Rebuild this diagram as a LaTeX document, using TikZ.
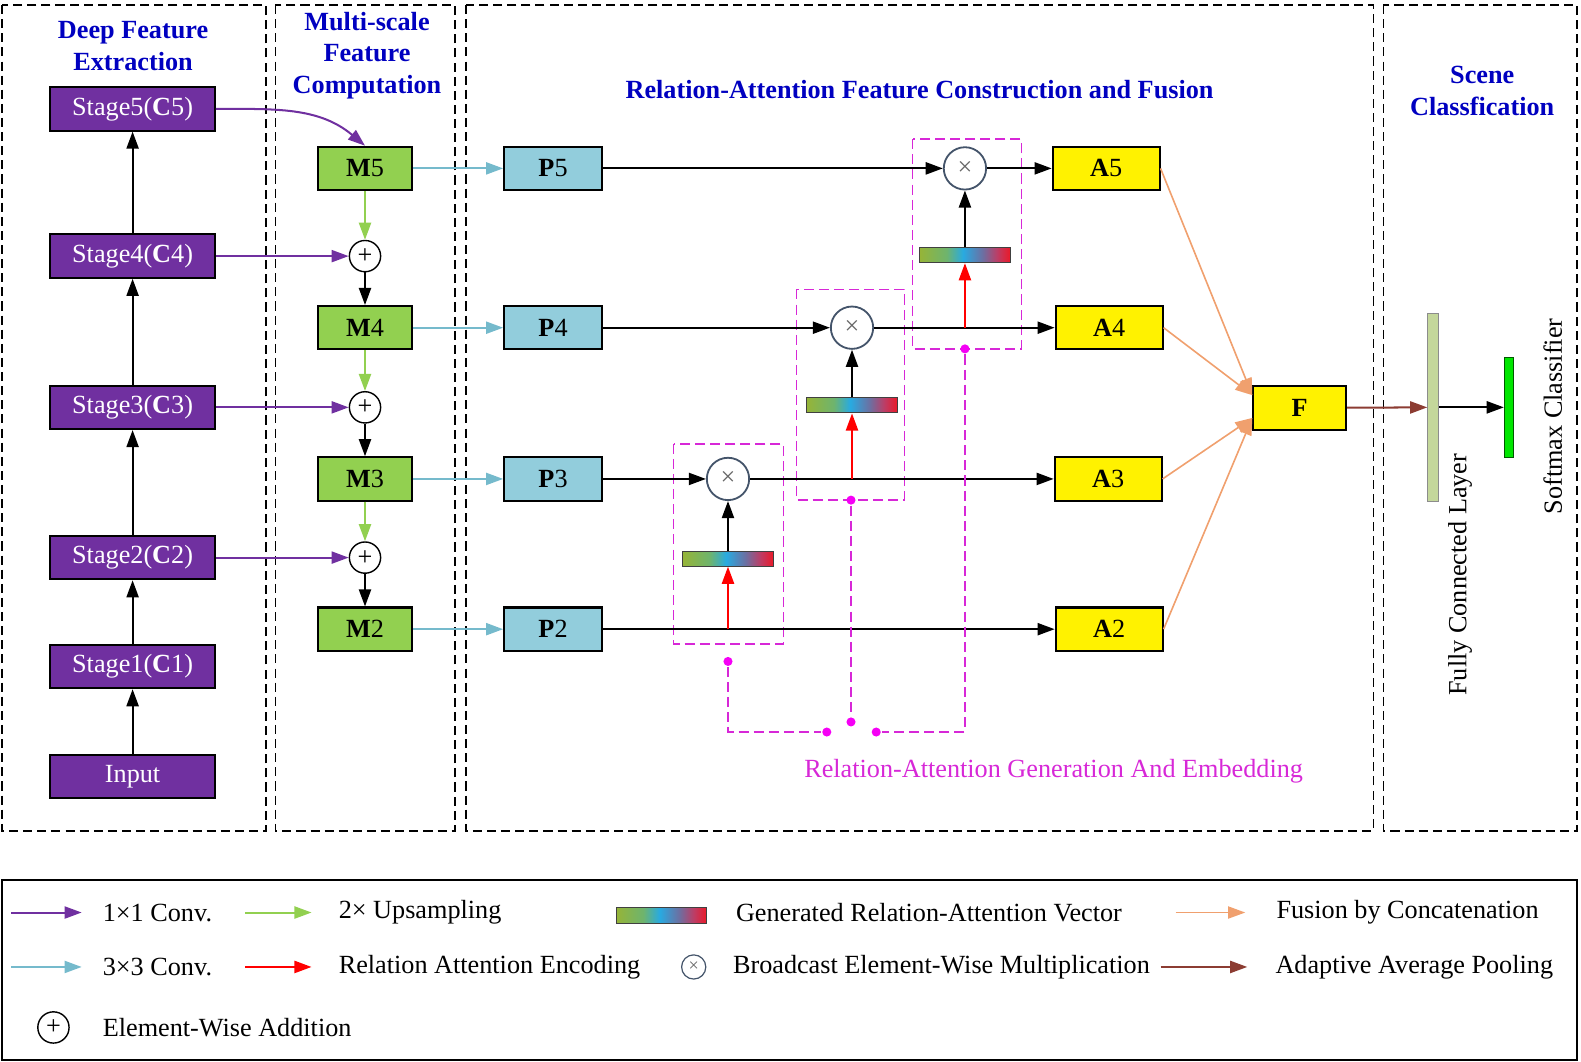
\documentclass[tikz,border=0pt]{standalone}
\usepackage{fontspec}
\setmainfont{Liberation Serif}
\usetikzlibrary{arrows.meta}
\definecolor{stpurple}{RGB}{112,48,160}
\definecolor{mgreen}{RGB}{146,208,80}
\definecolor{pblue}{RGB}{146,205,220}
\definecolor{convcyan}{RGB}{117,186,204}
\definecolor{titleblue}{RGB}{0,0,192}
\definecolor{ramag}{RGB}{215,40,215}
\definecolor{dotmag}{RGB}{245,0,245}
\definecolor{fusorange}{RGB}{240,160,110}
\definecolor{poolbrown}{RGB}{140,60,50}
\definecolor{fcgreen}{RGB}{196,215,155}
\definecolor{smgreen}{RGB}{0,230,0}
\definecolor{mulgray}{RGB}{68,84,106}
\definecolor{raol}{RGB}{150,180,55}
\definecolor{ragr}{RGB}{110,180,110}
\definecolor{racy}{RGB}{40,170,225}
\definecolor{ramu}{RGB}{110,110,160}
\definecolor{rapk}{RGB}{190,60,100}
\definecolor{rare}{RGB}{235,25,40}
\pgfdeclarehorizontalshading{ravec}{100bp}{color(0bp)=(raol); color(25bp)=(raol);
  color(40bp)=(ragr); color(49bp)=(racy); color(60bp)=(ramu); color(68bp)=(rapk);
  color(75bp)=(rare); color(100bp)=(rare)}
\tikzset{panel/.style={draw, dash pattern=on 9pt off 5pt, line width=1.5pt}}
\tikzset{stage/.style={draw, fill=stpurple, text=white, minimum width=163pt,
  minimum height=43pt, inner sep=0pt}}
\tikzset{mbox/.style={draw, fill=mgreen, minimum width=94pt, minimum height=43pt, inner sep=0pt}}
\tikzset{pbox/.style={draw, fill=pblue, minimum width=97pt, minimum height=43pt, inner sep=0pt}}
\tikzset{abox/.style={draw, fill=yellow, minimum width=106pt, minimum height=43pt, inner sep=0pt}}
\tikzset{addop/.style={draw, circle, fill=white, minimum size=31pt, inner sep=0pt, line width=1.4pt}}
\tikzset{mulop/.style={draw=mulgray, circle, fill=white, text=black!60, minimum size=42pt,
  inner sep=0pt, line width=1.8pt}}
\tikzset{ravecbar/.style={draw=black!75, line width=1pt, shade, shading=ravec,
  minimum width=90pt, minimum height=15pt, inner sep=0pt}}
\tikzset{grp/.style={draw=ramag, dash pattern=on 10pt off 5pt, line width=1.7pt}}
\tikzset{grplink/.style={draw=ramag, dash pattern=on 10pt off 5pt, line width=1.5pt}}
\tikzset{magdot/.style={circle, fill=dotmag, minimum size=9pt, inner sep=0pt}}
\tikzset{heading/.style={text=titleblue, font=\fontsize{26}{31.5}\selectfont\bfseries, align=center}}
\tikzset{legtext/.style={anchor=west, inner sep=0pt}}
\tikzset{conv1/.style={->, stpurple}}
\tikzset{conv3/.style={->, convcyan}}
\tikzset{upsam/.style={->, mgreen}}
\tikzset{encode/.style={->, red}}
\tikzset{fuse/.style={->, fusorange, line width=1.6pt}}
\tikzset{pool/.style={->, poolbrown}}

\begin{document}
\begin{tikzpicture}[x=1pt, y=-1pt, line width=2pt,
    >={Triangle[length=17pt,width=12pt]},
    font=\fontsize{26}{31}\selectfont]
  \useasboundingbox (0,0) rectangle (1568,1053);
  % panels
  \draw [panel] (2,5) rectangle (264,824);
  \draw [panel] (273,5) rectangle (451,824);
  \draw [panel] (462,5) rectangle (1362,824);
  \draw [panel] (1372,5) rectangle (1564,824);
  \node [heading] (t1) at (132,46) {Deep Feature\\Extraction};
  \node [heading] (t2) at (364,55) {Multi-scale\\Feature\\Computation};
  \node [heading] (t3) at (912,89) {Relation-Attention Feature Construction and Fusion};
  \node [heading] (t4) at (1470,90) {Scene\\Classfication};

  % backbone
  \node [stage] (inp) at (131.5,770) {Input};
  \node [stage] (st1) at (131.5,661) {Stage1(\textbf{C}1)};
  \node [stage] (st2) at (131.5,553) {Stage2(\textbf{C}2)};
  \node [stage] (st3) at (131.5,404) {Stage3(\textbf{C}3)};
  \node [stage] (st4) at (131.5,254) {Stage4(\textbf{C}4)};
  \node [stage] (st5) at (131.5,108) {Stage5(\textbf{C}5)};
  \draw [->] (inp) -- (st1);
  \draw [->] (st1) -- (st2);
  \draw [->] (st2) -- (st3);
  \draw [->] (st3) -- (st4);
  \draw [->] (st4) -- (st5);

  % multi-scale
  \node [mbox] (m5) at (362,167) {\textbf{M}5};
  \node [addop] (pl4) at (362,254) {+};
  \node [mbox] (m4) at (362,325) {\textbf{M}4};
  \node [addop] (pl3) at (362,404) {+};
  \node [mbox] (m3) at (362,475) {\textbf{M}3};
  \node [addop] (pl2) at (362,553) {+};
  \node [mbox] (m2) at (362,624) {\textbf{M}2};
  \draw [conv1] (st5.east) to[out=0,in=140] (m5.north);
  \draw [conv1] (st4) -- (pl4);
  \draw [conv1] (st3) -- (pl3);
  \draw [conv1] (st2) -- (pl2);
  \draw [upsam] (m5) -- (pl4);
  \draw [->] (pl4) -- (m4);
  \draw [upsam] (m4) -- (pl3);
  \draw [->] (pl3) -- (m3);
  \draw [upsam] (m3) -- (pl2);
  \draw [->] (pl2) -- (m2);

  % relation-attention
  \node [pbox] (p5) at (548.5,167) {\textbf{P}5};
  \node [pbox] (p4) at (548.5,325) {\textbf{P}4};
  \node [pbox] (p3) at (548.5,475) {\textbf{P}3};
  \node [pbox] (p2) at (548.5,624) {\textbf{P}2};
  \node [abox] (a5) at (1097,167) {\textbf{A}5};
  \node [abox] (a4) at (1100,325) {\textbf{A}4};
  \node [abox] (a3) at (1099,475) {\textbf{A}3};
  \node [abox] (a2) at (1100,624) {\textbf{A}2};
  \draw [grp] (905,138) rectangle (1013,346);
  \draw [grp] (790,287) rectangle (897,496);
  \draw [grp] (668,440) rectangle (777,639);
  \node [mulop] (mul5) at (957,167) {×};
  \node [mulop] (mul4) at (845,325) {×};
  \node [mulop] (mul3) at (722,475) {×};
  \node [ravecbar] (bar5) at (957,253) {};
  \node [ravecbar] (bar4) at (845,402) {};
  \node [ravecbar] (bar3) at (722,554) {};
  \draw [conv3] (m5) -- (p5);
  \draw [conv3] (m4) -- (p4);
  \draw [conv3] (m3) -- (p3);
  \draw [conv3] (m2) -- (p2);
  \draw [->] (p5) -- (mul5);
  \draw [->] (mul5) -- (a5);
  \draw [->] (p4) -- (mul4);
  \draw [->] (mul4) -- (a4);
  \draw [->] (p3) -- (mul3);
  \draw [->] (mul3) -- (a3);
  \draw [->] (p2) -- (a2);
  \draw [encode] (bar5 |- p4) -- (bar5);
  \draw [encode] (bar4 |- p3) -- (bar4);
  \draw [encode] (bar3 |- p2) -- (bar3);
  \draw [->] (bar5) -- (mul5);
  \draw [->] (bar4) -- (mul4);
  \draw [->] (bar3) -- (mul3);
  \node [magdot] (d5) at (957,346) {};
  \node [magdot] (d4) at (844,496) {};
  \node [magdot] (d3) at (722,656) {};
  \node [magdot] (e3) at (820,726) {};
  \node [magdot] (e4) at (844,716) {};
  \node [magdot] (e5) at (869,726) {};
  \draw [grplink] (d3) |- (e3);
  \draw [grplink] (d4) -- (e4);
  \draw [grplink] (d5) |- (e5);
  \node [text=ramag] (ralab) at (1045,765) {Relation-Attention Generation And Embedding};

  % fusion and classification
  \node [abox, minimum width=92pt] (F) at (1289,404.5) {\textbf{F}};
  \draw [fuse] (a5.east) -- (F.165);
  \draw [fuse] (a4.east) -- (F.165);
  \draw [fuse] (a3.east) -- (F.192);
  \draw [fuse] (a2.east) -- (F.192);
  \node [draw=black!45, line width=1pt, fill=fcgreen, minimum width=11pt, minimum height=187pt,
    inner sep=0pt] (fc) at (1421.5,404) {};
  \node [draw=green!35!black, line width=1pt, fill=smgreen, minimum width=9pt, minimum height=99pt,
    inner sep=0pt] (sm) at (1496.5,404) {};
  \draw [pool] (F) -- (fc);
  \draw [->] (fc) -- (sm);
  \node [rotate=90] (fcl) at (1448,570) {Fully Connected Layer};
  \node [rotate=90] (sml) at (1540,413) {Softmax Classifier};

  % legend
  \draw (2,873) rectangle (1564,1051);
  \node [legtext] (l11) at (101,905) {1×1 Conv.};
  \draw [conv1] ([xshift=-90pt]l11.west) -- ([xshift=-20pt]l11.west);
  \node [legtext] (l12) at (335,905) {2× Upsampling};
  \draw [upsam] ([xshift=-92pt]l12.west) -- ([xshift=-26pt]l12.west);
  \node [ravecbar] (lbar) at (656,908) {};
  \node [legtext] (l13) at (729,905) {Generated Relation-Attention Vector};
  \node [legtext] (l14) at (1265,905) {Fusion by Concatenation};
  \draw [fuse] ([xshift=-99pt]l14.west) -- ([xshift=-30pt]l14.west);
  \node [legtext] (l21) at (101,959) {3×3 Conv.};
  \draw [conv3] ([xshift=-90pt]l21.west) -- ([xshift=-20pt]l21.west);
  \node [legtext] (l22) at (335,959) {Relation Attention Encoding};
  \draw [encode] ([xshift=-92pt]l22.west) -- ([xshift=-26pt]l22.west);
  \node [mulop, minimum size=24pt, line width=1.2pt, font=\fontsize{18}{20}\selectfont] (lmul) at (688,959) {×};
  \node [legtext] (l23) at (726,959) {Broadcast Element-Wise Multiplication};
  \node [legtext] (l24) at (1264,959) {Adaptive Average Pooling};
  \draw [pool] ([xshift=-113pt]l24.west) -- ([xshift=-27pt]l24.west);
  \node [addop] (ladd) at (53,1019) {+};
  \node [legtext] (l31) at (101,1019) {Element-Wise Addition};
\end{tikzpicture}
\end{document}
